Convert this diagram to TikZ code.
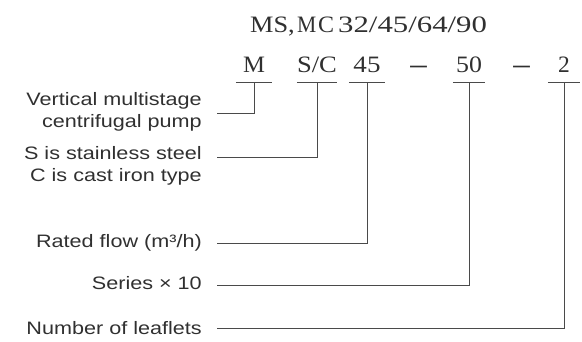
\documentclass[tikz,border=0pt]{standalone}
\usepackage{fontspec}
\setmainfont{Liberation Serif}
\newfontfamily\descfont{Liberation Sans}
\usetikzlibrary{positioning}
\definecolor{inkgray}{HTML}{303030}
\definecolor{linegray}{HTML}{4A4A4A}
\newcommand{\wide}[2][1.1]{\scalebox{#1}[1]{#2}}
\tikzset{
  code/.style={font=\fontsize{23.5}{26}\selectfont, text=inkgray, anchor=base,
    inner xsep=0pt, inner ysep=9pt, text depth=0pt, minimum width=36pt},
  head/.style={font=\fontsize{23.5}{26}\selectfont, text=inkgray, anchor=base west, inner sep=0pt},
  desc/.style={font=\descfont\fontsize{18}{21.5}\selectfont, text=inkgray, align=right,
    anchor=east, inner xsep=12.5pt, inner ysep=0pt, xscale=1.2, transform shape},
  lead/.style={draw=linegray, line width=0.9pt},
}
\begin{document}
\begin{tikzpicture}[x=1pt,y=-1pt]
\useasboundingbox (0,0) rectangle (582,342);
% type designation
\node[head] (hMS) at (250,33) {\wide[1.12]{MS,}};
\node[head] (hM) at (297,33) {\wide[0.92]{M}};
\node[head] (hC) at (318,33) {\wide[1.02]{C}};
\node[head] (hNum) at (338,33) {\wide[1.31]{32/45/64/90}};
% code letters
\node[code] (cM) at (254,73) {\wide[1.05]{M}};
\node[code] (cSC) at (317,73) {\wide[1.13]{S/C}};
\node[code] (c45) at (367,73) {\wide[1.15]{45}};
\node[code, minimum width=0pt] (dash1) at (418.5,73) {\wide[1.4]{\bfseries –}};
\node[code, minimum width=32pt] (c50) at (469,73) {\wide[1.1]{50}};
\node[code, minimum width=0pt] (dash2) at (521.5,73) {\wide[1.4]{\bfseries –}};
\node[code, minimum width=32pt] (c2) at (564,73) {\wide[1.0]{2}};
\foreach \c in {cM,cSC,c45,c50,c2}
  \draw[lead] (\c.south west) -- (\c.south east);
% meanings
\node[desc] (dPump) at (217,112) {Vertical multistage\\centrifugal pump};
\node[desc] (dSteel) at (217,166) {S is stainless steel\\C is cast iron type};
\node[desc] (dFlow) at (217,243) {Rated flow (m³/h)};
\node[desc] (dSeries) at (217,283) {Series × 10};
\node[desc] (dLeaf) at (217,328) {Number of leaflets};
% leader lines
\draw[lead] (cM.south) |- ([yshift=-1pt]dPump.east);
\draw[lead] (cSC.south) |- ([yshift=9pt]dSteel.east);
\draw[lead] (c45.south) |- (dFlow.east);
\draw[lead] (c50.south) |- ([yshift=-2pt]dSeries.east);
\draw[lead] (c2.south) |- (dLeaf.east);
\end{tikzpicture}
\end{document}
